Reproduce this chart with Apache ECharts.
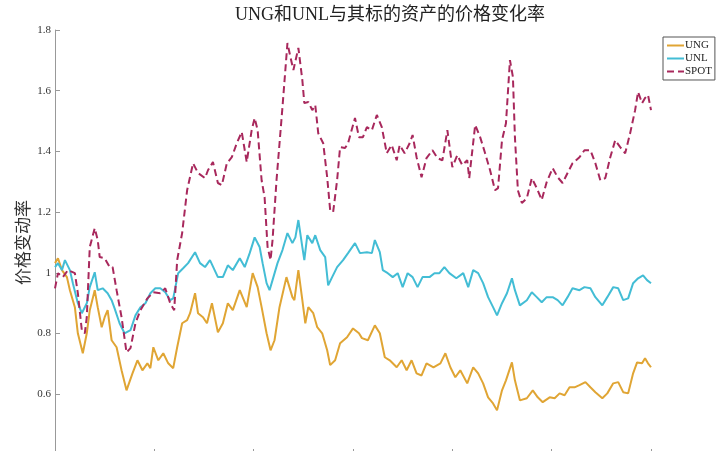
<!DOCTYPE html>
<html>
<head>
<meta charset="utf-8">
<script src="https://cdn.jsdelivr.net/npm/echarts@6/dist/echarts.min.js"></script>
<style>
  html, body { margin: 0; padding: 0; background: #fff; }
  #chart { width: 720px; height: 451px; }
</style>
</head>
<body>
<div id="chart"></div>
<script>
// trading-day index and price change ratio
var ungDays = [0, 3, 7, 12, 15, 20, 23, 28, 32, 35, 40, 43, 47, 50, 53, 57, 62, 67, 72, 78,
  83, 88, 93, 96, 99, 104, 109, 114, 119, 123, 128, 133, 136, 141, 144, 149, 153, 158, 164, 169,
  174, 179, 186, 193, 199, 204, 208, 213, 217, 221, 226, 233, 239, 241, 245, 249, 252, 255, 260, 264,
  269, 274, 277, 282, 287, 294, 300, 306, 309, 315, 322, 327, 332, 337, 344, 349, 354, 359, 364, 369,
  374, 381, 388, 393, 398, 403, 408, 415, 421, 426, 431, 436, 441, 445, 450, 454, 460, 463, 468, 475,
  481, 486, 491, 498, 503, 508, 513, 518, 523, 528, 534, 539, 544, 551, 556, 562, 567, 572, 577, 582,
  586, 591, 594, 597, 600];
var ungVals = [1.032, 1.048, 1.009, 0.986, 0.943, 0.887, 0.801, 0.735, 0.801, 0.877, 0.943, 0.887, 0.821, 0.854, 0.877, 0.778, 0.755, 0.679, 0.613, 0.669,
  0.712, 0.679, 0.702, 0.686, 0.755, 0.712, 0.735, 0.702, 0.686, 0.755, 0.834, 0.844, 0.867, 0.933, 0.867, 0.854, 0.834, 0.900, 0.804, 0.834,
  0.900, 0.877, 0.943, 0.887, 0.999, 0.953, 0.887, 0.801, 0.745, 0.778, 0.887, 0.986, 0.920, 0.910, 1.009, 0.910, 0.834, 0.887, 0.867, 0.821,
  0.801, 0.745, 0.696, 0.712, 0.768, 0.788, 0.817, 0.801, 0.785, 0.778, 0.827, 0.801, 0.722, 0.712, 0.689, 0.712, 0.679, 0.712, 0.669, 0.662,
  0.702, 0.689, 0.702, 0.735, 0.689, 0.656, 0.679, 0.636, 0.689, 0.669, 0.636, 0.590, 0.570, 0.547, 0.613, 0.646, 0.705, 0.646, 0.580, 0.587,
  0.613, 0.590, 0.574, 0.590, 0.587, 0.603, 0.597, 0.623, 0.623, 0.630, 0.640, 0.623, 0.607, 0.587, 0.603, 0.636, 0.640, 0.607, 0.603, 0.669,
  0.705, 0.702, 0.719, 0.702, 0.689];

var unlDays = [0, 3, 7, 10, 15, 18, 23, 27, 32, 35, 40, 43, 48, 53, 57, 60, 65, 70, 76, 81,
  86, 91, 96, 101, 106, 111, 116, 119, 124, 129, 134, 141, 146, 151, 156, 164, 169, 174, 179, 186,
  191, 196, 201, 206, 209, 213, 216, 219, 224, 229, 234, 239, 242, 245, 249, 251, 254, 259, 262, 267,
  272, 275, 279, 284, 290, 295, 302, 307, 314, 319, 322, 327, 330, 335, 340, 345, 350, 355, 360, 365,
  370, 377, 382, 387, 392, 397, 404, 411, 416, 421, 426, 431, 436, 441, 445, 450, 455, 460, 463, 468,
  475, 480, 485, 490, 495, 501, 506, 511, 516, 521, 528, 533, 539, 544, 551, 556, 562, 567, 572, 577,
  582, 587, 592, 596, 600];
var unlVals = [1.019, 1.032, 1.009, 1.042, 1.009, 0.966, 0.900, 0.867, 0.900, 0.953, 1.002, 0.943, 0.949, 0.933, 0.910, 0.883, 0.834, 0.801, 0.811, 0.860,
  0.887, 0.900, 0.933, 0.949, 0.949, 0.936, 0.910, 0.916, 0.999, 1.015, 1.032, 1.068, 1.032, 1.019, 1.042, 0.986, 0.986, 1.025, 1.009, 1.048,
  1.019, 1.065, 1.117, 1.085, 1.032, 0.966, 0.943, 0.976, 1.032, 1.075, 1.131, 1.098, 1.117, 1.174, 1.085, 1.042, 1.124, 1.098, 1.124, 1.075,
  1.052, 0.959, 0.986, 1.019, 1.042, 1.065, 1.098, 1.065, 1.068, 1.065, 1.108, 1.068, 1.009, 0.999, 0.986, 0.999, 0.953, 0.999, 0.986, 0.953,
  0.986, 0.986, 0.999, 0.999, 1.019, 0.999, 0.982, 0.999, 0.953, 1.009, 0.999, 0.966, 0.920, 0.887, 0.860, 0.900, 0.933, 0.982, 0.943, 0.893,
  0.910, 0.936, 0.920, 0.903, 0.920, 0.920, 0.910, 0.893, 0.920, 0.949, 0.943, 0.953, 0.949, 0.920, 0.893, 0.920, 0.953, 0.949, 0.910, 0.916,
  0.966, 0.982, 0.992, 0.976, 0.966];

var spotDays = [0, 3, 8, 13, 20, 23, 27, 30, 32, 35, 40, 43, 45, 50, 55, 58, 62, 67, 72, 76,
  81, 86, 93, 99, 106, 111, 116, 120, 123, 128, 133, 139, 144, 151, 154, 159, 164, 168, 173, 178,
  183, 188, 193, 198, 201, 204, 208, 211, 214, 217, 219, 223, 229, 234, 237, 240, 245, 249, 251, 255,
  259, 262, 265, 270, 274, 277, 280, 284, 287, 292, 295, 302, 306, 310, 314, 319, 324, 329, 334, 339,
  344, 347, 352, 357, 360, 364, 369, 374, 380, 385, 390, 395, 400, 405, 410, 415, 417, 423, 428, 433,
  438, 443, 446, 450, 454, 458, 461, 463, 466, 470, 475, 480, 485, 490, 495, 501, 506, 511, 516, 521,
  528, 533, 539, 544, 549, 554, 559, 564, 569, 574, 579, 584, 587, 591, 594, 597, 600];
var spotVals = [0.949, 0.999, 0.986, 1.009, 0.999, 0.933, 0.811, 0.801, 0.854, 1.085, 1.147, 1.108, 1.052, 1.048, 1.019, 1.019, 0.943, 0.854, 0.738, 0.752,
  0.834, 0.877, 0.916, 0.936, 0.933, 0.949, 0.900, 0.877, 1.042, 1.131, 1.272, 1.361, 1.329, 1.312, 1.338, 1.365, 1.296, 1.289, 1.361, 1.381,
  1.427, 1.464, 1.365, 1.470, 1.510, 1.470, 1.305, 1.249, 1.085, 1.042, 1.108, 1.305, 1.546, 1.757, 1.711, 1.668, 1.741, 1.635, 1.559, 1.563,
  1.536, 1.553, 1.460, 1.427, 1.315, 1.207, 1.200, 1.305, 1.414, 1.411, 1.427, 1.510, 1.447, 1.447, 1.480, 1.470, 1.520, 1.480, 1.394, 1.421,
  1.371, 1.421, 1.394, 1.427, 1.454, 1.381, 1.315, 1.378, 1.404, 1.378, 1.371, 1.470, 1.348, 1.388, 1.355, 1.371, 1.312, 1.487, 1.447, 1.394,
  1.338, 1.272, 1.279, 1.437, 1.493, 1.701, 1.645, 1.447, 1.272, 1.230, 1.246, 1.312, 1.279, 1.240, 1.299, 1.345, 1.315, 1.296, 1.329, 1.361,
  1.381, 1.404, 1.404, 1.361, 1.305, 1.312, 1.381, 1.437, 1.414, 1.394, 1.460, 1.536, 1.596, 1.559, 1.576, 1.586, 1.536];

var yTicks = { min: 0.4, max: 1.8, step: 0.2 };
var seriesNames = ['UNG', 'UNL', 'SPOT'];

function pairs(days, vals) {
  return days.map(function (d, i) { return [d, vals[i]]; });
}

var serif = "'Liberation Serif', 'Times New Roman', 'Noto Sans CJK SC', serif";
var chart = echarts.init(document.getElementById('chart'));

chart.setOption({
  backgroundColor: '#fff',
  animation: false,
  title: {
    text: 'UNG和UNL与其标的资产的价格变化率',
    left: 230,
    top: 1,
    textStyle: { fontFamily: serif, fontSize: 18, fontWeight: 'normal', color: '#222' }
  },
  legend: {
    data: seriesNames,
    orient: 'vertical',
    left: 663,
    top: 37,
    padding: [3, 3, 3, 3],
    itemGap: 2,
    itemWidth: 17,
    itemHeight: 10,
    borderColor: '#555',
    borderWidth: 1,
    itemStyle: { opacity: 0 },
    textStyle: { fontFamily: serif, fontSize: 11, color: '#222', padding: [0, 0, 0, -4] }
  },
  grid: { left: 55, top: 30, width: 596, height: 425, outerBoundsMode: 'none', containLabel: false },
  xAxis: {
    type: 'value',
    min: 0,
    max: 600,
    interval: 100,
    axisLine: { lineStyle: { color: '#999' } },
    axisTick: { inside: true, length: 6, lineStyle: { color: '#999' } },
    axisLabel: { show: false },
    splitLine: { show: false }
  },
  yAxis: {
    type: 'value',
    min: yTicks.min,
    max: yTicks.max,
    interval: yTicks.step,
    name: '价格变动率',
    nameLocation: 'middle',
    nameGap: 22,
    nameMoveOverlap: false,
    nameTextStyle: { fontFamily: serif, fontSize: 17, color: '#333' },
    axisLine: { show: true, lineStyle: { color: '#999' } },
    axisTick: { show: true, inside: true, length: 5, lineStyle: { color: '#999' } },
    axisLabel: {
      fontFamily: serif, fontSize: 11, color: '#333', margin: 4,
      formatter: function (v) { return String(Math.round(v * 10) / 10); }
    },
    splitLine: { show: false }
  },
  series: [
    {
      name: 'UNG', type: 'line', showSymbol: false, symbol: 'none',
      data: pairs(ungDays, ungVals),
      lineStyle: { color: '#E0A534', width: 2 },
      itemStyle: { color: '#E0A534' }
    },
    {
      name: 'UNL', type: 'line', showSymbol: false, symbol: 'none',
      data: pairs(unlDays, unlVals),
      lineStyle: { color: '#43BDD5', width: 2 },
      itemStyle: { color: '#43BDD5' }
    },
    {
      name: 'SPOT', type: 'line', showSymbol: false, symbol: 'none',
      data: pairs(spotDays, spotVals),
      lineStyle: { color: '#A8285C', width: 2, type: [7, 4] },
      itemStyle: { color: '#A8285C' }
    }
  ]
});
</script>
</body>
</html>
